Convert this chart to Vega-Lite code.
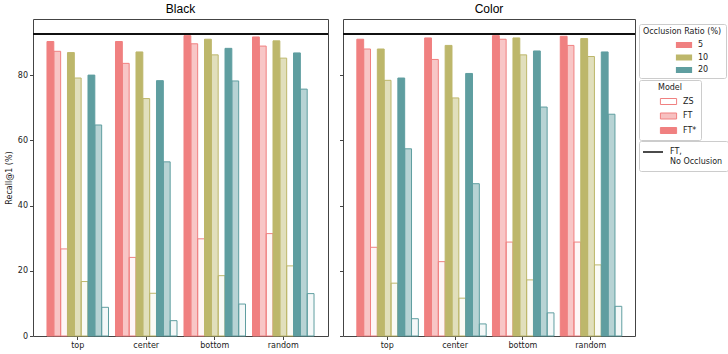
{
  "$schema": "https://vega.github.io/schema/vega-lite/v6.json",
  "padding": {"left": 4, "top": 2, "right": 0, "bottom": 0},
  "background": "white",
  "datasets": {
    "d": [
      {"p":"Black","pos":"top","r":"5","m":"FT*","v":90.3},{"p":"Black","pos":"top","r":"5","m":"FT","v":87.3},{"p":"Black","pos":"top","r":"5","m":"ZS","v":26.7},
      {"p":"Black","pos":"top","r":"10","m":"FT*","v":86.9},{"p":"Black","pos":"top","r":"10","m":"FT","v":79.1},{"p":"Black","pos":"top","r":"10","m":"ZS","v":16.7},
      {"p":"Black","pos":"top","r":"20","m":"FT*","v":80.0},{"p":"Black","pos":"top","r":"20","m":"FT","v":64.7},{"p":"Black","pos":"top","r":"20","m":"ZS","v":8.8},
      {"p":"Black","pos":"center","r":"5","m":"FT*","v":90.3},{"p":"Black","pos":"center","r":"5","m":"FT","v":83.6},{"p":"Black","pos":"center","r":"5","m":"ZS","v":24.1},
      {"p":"Black","pos":"center","r":"10","m":"FT*","v":87.1},{"p":"Black","pos":"center","r":"10","m":"FT","v":72.8},{"p":"Black","pos":"center","r":"10","m":"ZS","v":13.1},
      {"p":"Black","pos":"center","r":"20","m":"FT*","v":78.3},{"p":"Black","pos":"center","r":"20","m":"FT","v":53.4},{"p":"Black","pos":"center","r":"20","m":"ZS","v":4.7},
      {"p":"Black","pos":"bottom","r":"5","m":"FT*","v":92.1},{"p":"Black","pos":"bottom","r":"5","m":"FT","v":89.6},{"p":"Black","pos":"bottom","r":"5","m":"ZS","v":29.8},
      {"p":"Black","pos":"bottom","r":"10","m":"FT*","v":91.0},{"p":"Black","pos":"bottom","r":"10","m":"FT","v":86.2},{"p":"Black","pos":"bottom","r":"10","m":"ZS","v":18.5},
      {"p":"Black","pos":"bottom","r":"20","m":"FT*","v":88.2},{"p":"Black","pos":"bottom","r":"20","m":"FT","v":78.2},{"p":"Black","pos":"bottom","r":"20","m":"ZS","v":9.8},
      {"p":"Black","pos":"random","r":"5","m":"FT*","v":91.7},{"p":"Black","pos":"random","r":"5","m":"FT","v":88.9},{"p":"Black","pos":"random","r":"5","m":"ZS","v":31.4},
      {"p":"Black","pos":"random","r":"10","m":"FT*","v":90.5},{"p":"Black","pos":"random","r":"10","m":"FT","v":85.2},{"p":"Black","pos":"random","r":"10","m":"ZS","v":21.5},
      {"p":"Black","pos":"random","r":"20","m":"FT*","v":86.8},{"p":"Black","pos":"random","r":"20","m":"FT","v":75.7},{"p":"Black","pos":"random","r":"20","m":"ZS","v":13.0},
      {"p":"Color","pos":"top","r":"5","m":"FT*","v":91.0},{"p":"Color","pos":"top","r":"5","m":"FT","v":88.0},{"p":"Color","pos":"top","r":"5","m":"ZS","v":27.2},
      {"p":"Color","pos":"top","r":"10","m":"FT*","v":88.0},{"p":"Color","pos":"top","r":"10","m":"FT","v":78.4},{"p":"Color","pos":"top","r":"10","m":"ZS","v":16.2},
      {"p":"Color","pos":"top","r":"20","m":"FT*","v":79.1},{"p":"Color","pos":"top","r":"20","m":"FT","v":57.4},{"p":"Color","pos":"top","r":"20","m":"ZS","v":5.3},
      {"p":"Color","pos":"center","r":"5","m":"FT*","v":91.4},{"p":"Color","pos":"center","r":"5","m":"FT","v":84.8},{"p":"Color","pos":"center","r":"5","m":"ZS","v":22.8},
      {"p":"Color","pos":"center","r":"10","m":"FT*","v":89.1},{"p":"Color","pos":"center","r":"10","m":"FT","v":73.0},{"p":"Color","pos":"center","r":"10","m":"ZS","v":11.6},
      {"p":"Color","pos":"center","r":"20","m":"FT*","v":80.5},{"p":"Color","pos":"center","r":"20","m":"FT","v":46.7},{"p":"Color","pos":"center","r":"20","m":"ZS","v":3.7},
      {"p":"Color","pos":"bottom","r":"5","m":"FT*","v":92.1},{"p":"Color","pos":"bottom","r":"5","m":"FT","v":91.0},{"p":"Color","pos":"bottom","r":"5","m":"ZS","v":28.8},
      {"p":"Color","pos":"bottom","r":"10","m":"FT*","v":91.4},{"p":"Color","pos":"bottom","r":"10","m":"FT","v":86.2},{"p":"Color","pos":"bottom","r":"10","m":"ZS","v":17.2},
      {"p":"Color","pos":"bottom","r":"20","m":"FT*","v":87.4},{"p":"Color","pos":"bottom","r":"20","m":"FT","v":70.2},{"p":"Color","pos":"bottom","r":"20","m":"ZS","v":7.1},
      {"p":"Color","pos":"random","r":"5","m":"FT*","v":91.9},{"p":"Color","pos":"random","r":"5","m":"FT","v":89.1},{"p":"Color","pos":"random","r":"5","m":"ZS","v":28.8},
      {"p":"Color","pos":"random","r":"10","m":"FT*","v":91.2},{"p":"Color","pos":"random","r":"10","m":"FT","v":85.7},{"p":"Color","pos":"random","r":"10","m":"ZS","v":21.8},
      {"p":"Color","pos":"random","r":"20","m":"FT*","v":87.1},{"p":"Color","pos":"random","r":"20","m":"FT","v":68.0},{"p":"Color","pos":"random","r":"20","m":"ZS","v":9.1}
    ]
  },
  "spacing": 8,
  "hconcat": [
    {
      "title": "Black",
      "width": 295,
      "height": 317,
      "data": {"name": "d"},
      "transform": [{"filter": "datum.p === 'Black'"}, {"calculate": "datum.r + '|' + datum.m", "as": "k"}],
      "layer": [
        {
          "mark": {"type": "bar", "strokeWidth": 1},
          "encoding": {
            "x": {"field": "pos", "type": "nominal", "sort": ["top","center","bottom","random"], "scale": {"paddingInner": 0.102, "paddingOuter": 0.204}, "axis": {"title": null, "labelAngle": 0}},
            "xOffset": {"field": "k", "type": "nominal", "scale": {"domain": ["5|FT*","5|FT","5|ZS","10|FT*","10|FT","10|ZS","20|FT*","20|FT","20|ZS"], "paddingInner": 0, "paddingOuter": 0}},
            "y": {"field": "v", "type": "quantitative", "scale": {"domain": [0, 97.2], "nice": false}, "axis": {"title": "Recall@1 (%)", "values": [0,20,40,60,80]}},
            "fill": {"field": "r", "type": "nominal", "scale": {"domain": ["5","10","20"], "range": ["#F08080","#BDB76B","#5F9EA0"]}, "legend": {"title": "Occlusion Ratio (%)", "orient": "none", "legendX": 606, "legendY": 5, "symbolType": "M-1.35,-0.5H1.35V0.5H-1.35Z", "symbolSize": 144, "symbolStrokeWidth": 0, "symbolOffset": 22}},
            "stroke": {"field": "r", "type": "nominal", "scale": {"domain": ["5","10","20"], "range": ["#F08080","#BDB76B","#5F9EA0"]}, "legend": null},
            "fillOpacity": {"field": "m", "type": "ordinal", "scale": {"type": "ordinal", "domain": ["ZS","FT","FT*"], "range": [0.07, 0.45, 1]}, "legend": null}
          }
        },
        {
          "transform": [{"filter": "false"}],
          "mark": {"type": "bar"},
          "encoding": {
            "x": {"field": "pos", "type": "nominal", "sort": ["top","center","bottom","random"]},
            "y": {"field": "v", "type": "quantitative"},
            "color": {"field": "m", "type": "nominal", "scale": {"domain": ["ZS","FT","FT*"], "range": ["#ffffff","#f7c0c0","#F08080"]}, "legend": {"title": "Model", "orient": "none", "legendX": 606, "legendY": 61, "symbolType": "M-1.35,-0.5H1.35V0.5H-1.35Z", "symbolSize": 144, "symbolStrokeColor": "#F08080", "symbolStrokeWidth": 1, "symbolOffset": 19}}
          }
        },
        {
          "mark": {"type": "rule", "stroke": "#111", "strokeWidth": 1.5},
          "encoding": {
            "y": {"datum": 92.6},
            "strokeDash": {"datum": "FT, No Occlusion", "scale": {"range": [[1, 0]]}, "legend": {"title": null, "orient": "none", "legendX": 606, "legendY": 122, "symbolType": "M-2,0H2", "symbolSize": 100, "symbolStrokeColor": "#111", "symbolStrokeWidth": 1.5, "symbolOffset": 3, "labelOffset": 11, "padding": 5, "labelExpr": "['FT,', 'No Occlusion']"}}
          }
        }
      ]
    },
    {
      "title": "Color",
      "width": 292,
      "height": 317,
      "data": {"name": "d"},
      "transform": [{"filter": "datum.p === 'Color'"}, {"calculate": "datum.r + '|' + datum.m", "as": "k"}],
      "layer": [
        {
          "mark": {"type": "bar", "strokeWidth": 1},
          "encoding": {
            "x": {"field": "pos", "type": "nominal", "sort": ["top","center","bottom","random"], "scale": {"paddingInner": 0.102, "paddingOuter": 0.204}, "axis": {"title": null, "labelAngle": 0}},
            "xOffset": {"field": "k", "type": "nominal", "scale": {"domain": ["5|FT*","5|FT","5|ZS","10|FT*","10|FT","10|ZS","20|FT*","20|FT","20|ZS"], "paddingInner": 0, "paddingOuter": 0}},
            "y": {"field": "v", "type": "quantitative", "scale": {"domain": [0, 97.2], "nice": false}, "axis": {"title": null, "labels": false, "values": [0,20,40,60,80]}},
            "fill": {"field": "r", "type": "nominal", "scale": {"domain": ["5","10","20"], "range": ["#F08080","#BDB76B","#5F9EA0"]}, "legend": {"title": "Occlusion Ratio (%)", "orient": "none", "legendX": 606, "legendY": 5, "symbolType": "M-1.35,-0.5H1.35V0.5H-1.35Z", "symbolSize": 144, "symbolStrokeWidth": 0, "symbolOffset": 22}},
            "stroke": {"field": "r", "type": "nominal", "scale": {"domain": ["5","10","20"], "range": ["#F08080","#BDB76B","#5F9EA0"]}, "legend": null},
            "fillOpacity": {"field": "m", "type": "ordinal", "scale": {"type": "ordinal", "domain": ["ZS","FT","FT*"], "range": [0.07, 0.45, 1]}, "legend": null}
          }
        },
        {
          "mark": {"type": "rule", "stroke": "#111", "strokeWidth": 1.5},
          "encoding": {
            "y": {"datum": 92.6},
            "strokeDash": {"datum": "FT, No Occlusion", "scale": {"range": [[1, 0]]}, "legend": {"title": null, "orient": "none", "legendX": 606, "legendY": 122, "symbolType": "M-2,0H2", "symbolSize": 100, "symbolStrokeColor": "#111", "symbolStrokeWidth": 1.5, "symbolOffset": 3, "labelOffset": 11, "padding": 5, "labelExpr": "['FT,', 'No Occlusion']"}}
          }
        }
      ]
    }
  ],
  "config": {
    "font": "DejaVu Sans",
    "view": {"stroke": "#444", "strokeWidth": 1},
    "title": {"fontSize": 12, "fontWeight": "normal", "color": "#000", "offset": 3, "font": "Liberation Sans"},
    "axis": {"domain": false, "grid": false, "tickColor": "#444", "tickSize": 3.5, "labelFontSize": 8, "labelColor": "#222", "labelPadding": 2, "titleFontSize": 8, "titleFontWeight": "normal", "titleColor": "#222", "titlePadding": 4},
    "legend": {"padding": 4, "strokeColor": "#cccccc", "fillColor": "white", "cornerRadius": 2, "titleFontSize": 8, "titleFontWeight": "normal", "titleColor": "#222", "titlePadding": 3, "labelFontSize": 8, "labelColor": "#222", "titleAnchor": "middle", "rowPadding": 2.5, "labelOffset": 8}
  }
}
